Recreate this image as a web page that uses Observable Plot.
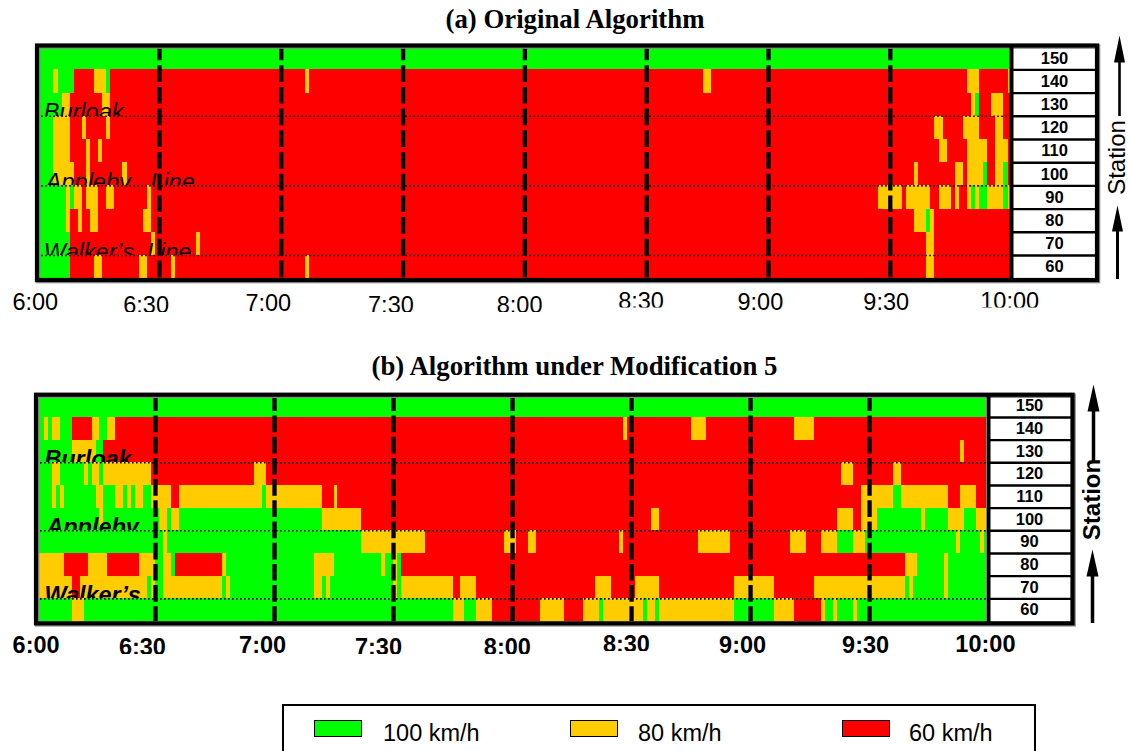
<!DOCTYPE html>
<html><head><meta charset="utf-8">
<script src="https://cdn.jsdelivr.net/npm/d3@7"></script>
<script src="https://cdn.jsdelivr.net/npm/@observablehq/plot@0.6"></script>
<style>
html,body{margin:0;padding:0;background:#fff;width:1128px;height:751px;overflow:hidden}
.abs{position:absolute}
.title{font:bold 26.8px "Liberation Serif",serif;color:#000;white-space:nowrap;transform:translateX(-50%)}
.leg{font:23.5px "Liberation Sans",sans-serif;color:#000;white-space:nowrap}
svg{overflow:hidden !important;background:transparent !important}
</style></head><body>
<div id="root"></div>
<script>
const stations=[150,140,130,120,110,100,90,80,70,60];
const speeds=[100,80,60];
const speedColors=["#00ff00","#ffcc00","#ff0000"];
const END=239.5;
// every row: [end minute after 6:00, speed limit], one pair per run
const a150=[[END,100]];
const a140=[[4,100],[5,80],[9,100],[14,60],[17,80],[18,100],[66,60],[67,80],[164,60],[166,80],[229,60],[232,80],[239,60],[END,80]];
const a130=[[6,100],[8,80],[16,60],[18,80],[230,60],[231,80],[232,100],[235,60],[238,80],[END,60]];
const a120=[[4,100],[8,80],[11,60],[12,80],[17,60],[18,80],[221,60],[223,80],[228,60],[232,80],[236,60],[238,80],[END,60]];
const a110=[[4,100],[8,80],[12,60],[13,80],[15,60],[16,80],[222,60],[224,80],[229,60],[234,80],[236,60],[239,80],[END,60]];
const a100=[[4,100],[9,80],[12,60],[13,80],[21,60],[22,80],[216,60],[217,80],[226,60],[228,80],[229,60],[233,80],[234,100],[236,60],[238,80],[239,100],[END,60]];
const a90=[[7,100],[8,80],[9,100],[11,80],[12,60],[15,80],[17,60],[19,80],[27,60],[28,80],[207,60],[213,80],[214,60],[220,80],[222,60],[225,80],[226,60],[227,80],[229,60],[230,80],[231,100],[232,80],[234,100],[238,80],[239,100],[END,80]];
const a80=[[7,100],[8,80],[10,60],[11,80],[13,60],[15,80],[26,60],[28,80],[216,60],[219,80],[220,100],[221,80],[END,60]];
const a70=[[8,100],[28,60],[29,80],[39,60],[40,80],[219,60],[221,80],[END,60]];
const a60=[[8,100],[14,60],[16,80],[25,60],[27,80],[33,60],[34,80],[66,60],[67,80],[219,60],[221,80],[END,60]];
const b150=[[END,100]];
const b140=[[2,100],[3,80],[4,100],[6,80],[9,100],[14,60],[16,80],[18,100],[20,80],[148,60],[149,80],[165,60],[169,80],[191,60],[196,80],[END,60]];
const b130=[[9,100],[15,80],[17,100],[233,60],[234,80],[END,60]];
const b120=[[4,100],[6,80],[12,100],[13,80],[14,100],[16,80],[17,100],[29,80],[55,60],[58,80],[203,60],[206,80],[216,60],[218,80],[END,60]];
const b110=[[4,100],[5,80],[6,100],[7,80],[15,100],[17,80],[20,100],[22,80],[23,100],[24,80],[25,100],[27,80],[29,100],[34,80],[36,60],[57,80],[58,100],[72,80],[75,60],[76,80],[208,60],[216,80],[218,100],[230,80],[233,60],[237,80],[END,60]];
const b100=[[16,100],[17,80],[31,100],[33,80],[34,100],[36,80],[72,100],[82,80],[155,60],[157,80],[202,60],[206,80],[208,60],[212,80],[223,100],[224,80],[230,100],[234,80],[237,100],[END,80]];
const b90=[[32,100],[33,80],[82,100],[98,80],[118,60],[121,80],[124,60],[126,80],[147,60],[148,80],[167,60],[175,80],[190,60],[194,80],[198,60],[202,80],[206,100],[209,80],[232,100],[233,80],[238,100],[239,80],[END,100]];
const b80=[[7,80],[13,60],[18,80],[26,60],[30,80],[32,100],[34,80],[35,100],[47,60],[48,80],[70,100],[75,80],[87,100],[88,80],[90,100],[91,80],[92,100],[219,60],[222,80],[229,100],[230,80],[END,100]];
const b70=[[9,80],[11,60],[28,80],[29,100],[30,80],[32,100],[47,80],[48,100],[49,80],[70,100],[72,80],[73,100],[74,80],[90,100],[91,80],[92,100],[105,80],[107,60],[111,80],[141,60],[145,80],[151,60],[157,80],[176,60],[186,80],[196,60],[219,80],[220,100],[221,80],[229,100],[230,80],[END,100]];
const b60=[[9,100],[12,80],[105,100],[108,80],[111,100],[115,80],[127,60],[133,80],[138,60],[142,80],[143,100],[153,80],[154,100],[156,80],[157,100],[176,80],[186,100],[191,80],[198,60],[199,80],[201,100],[202,80],[206,100],[207,80],[END,100]];
const halfHours=[30,60,90,120,150,180,210];
const tickLabels=["6:00","6:30","7:00","7:30","8:00","8:30","9:00","9:30","10:00"];
const placeRows=[125,95,65];
const placesA=["Burloak","Appleby\u00a0\u00a0\u00a0Line","Walker\u2019s\u00a0\u00a0Line"];
const placesB=["Burloak","Appleby","Walker\u2019s"];

const font='"Liberation Sans",sans-serif';
function runs(rows){return stations.map((s,i)=>{let start=0;return rows[i].map(([end,speed])=>{const r={station:s,start,end,speed};start=end;return r;});});}

function chart(o){
  const X=p=>(p-o.x0)/o.k;
  const yv=p=>55+(o.yBottom-p)/o.rowH*10;   // frame furniture helper
  const rows=runs(o.rows);
  const marks=[];
  const place=i=>Plot.text([{x:o.placeX[i],y:placeRows[i],t:o.places[i]}],{x:"x",y:"y",text:"t",textAnchor:"start",lineAnchor:"bottom",dy:o.placeDy,fontFamily:font,fontSize:o.placeSize,fontStyle:"italic",fontWeight:o.bold?"bold":"normal",fill:"black"});
  rows.forEach((r,i)=>{
    marks.push(Plot.rect(r,{x1:"start",x2:"end",y1:d=>d.station-5,y2:d=>d.station+5,fill:"speed",shapeRendering:"crispEdges"}));
    if(stations[i]==130) marks.push(place(0));
    if(stations[i]==100) marks.push(place(1));
    if(stations[i]==70) marks.push(place(2));
  });
  marks.push(Plot.ruleY(placeRows,{x1:0,x2:END,stroke:"black",strokeWidth:1.6,strokeDasharray:"1.6 2.4"}));
  marks.push(Plot.ruleX(halfHours,{y1:155,y2:55,stroke:"black",strokeWidth:o.dashW,strokeDasharray:o.dash,strokeDashoffset:o.dashOff}));
  // station table
  const xL=X(o.sep), xR=X(o.right);
  marks.push(Plot.rect([0],{x1:xL,x2:xR,y1:yv(o.frameBottom),y2:yv(o.frameTop),fill:"white"}));
  marks.push(Plot.ruleY(stations.slice(1).map(s=>s+5),{x1:xL,x2:xR,stroke:"black",strokeWidth:2.4}));
  marks.push(Plot.text(stations,{x:X(o.stationX),y:d=>d,text:d=>String(d),dy:o.stationDy,fontFamily:font,fontWeight:"bold",fontSize:o.stationSize,fill:"black"}));
  // frame and separator
  marks.push(Plot.rect([0],{x1:X(o.frameLeft+1),x2:X(o.right+1),y1:yv(o.frameBottom+1),y2:yv(o.frameTop+1),fill:"none",stroke:"#8a8a8a",strokeWidth:4.6}));
  marks.push(Plot.rect([0],{x1:X(o.frameLeft),x2:X(o.right),y1:yv(o.frameBottom),y2:yv(o.frameTop),fill:"none",stroke:"black",strokeWidth:4.2}));
  marks.push(Plot.ruleX([X(o.sep)],{y1:yv(o.frameBottom),y2:yv(o.frameTop),stroke:"black",strokeWidth:4}));
  // tick labels: the reference cuts their lower part off at slightly different levels
  const clips=[...new Set(o.tickClip)].sort((a,b)=>a-b);
  clips.forEach(c=>{
    const d=tickLabels.map((t,i)=>({t,m:o.tickMin[i],top:o.tickTop[i],clip:o.tickClip[i]})).filter(d=>d.clip===c);
    marks.push(Plot.text(d,{x:"m",y:d=>yv(d.top),text:"t",lineAnchor:"top",fontFamily:font,fontSize:o.tickSize,fontWeight:o.bold?"bold":"normal",fill:"black"}));
    marks.push(Plot.rect([0],{x1:X(0),x2:X(1128),y1:yv(c),y2:yv(o.height+4),fill:"white"}));
  });
  // Station arrows
  const ar=(xp,tip,base,end,hw,sw)=>{
    marks.push(Plot.line([[xp-hw,base],[xp,tip],[xp+hw,base]],{x:d=>X(d[0]),y:d=>yv(d[1]),fill:"black",stroke:"none"}));
    marks.push(Plot.ruleX([X(xp)],{y1:yv(base),y2:yv(end),stroke:"black",strokeWidth:sw}));
  };
  o.arrows.forEach(a=>ar(...a));
  marks.push(Plot.text(["Station"],{x:X(o.stX),y:yv(o.stY),rotate:-90,fontFamily:font,fontSize:o.stSize,fontWeight:o.bold?"bold":"normal",fill:"black"}));
  const svg=Plot.plot({width:1128,height:o.height,margin:0,marginTop:0,marginRight:0,marginBottom:0,marginLeft:0,
    x:{domain:[0,240],range:[o.x0,o.x0+240*o.k],axis:null},
    y:{domain:[55,155],range:[o.yBottom,o.yBottom-10*o.rowH],axis:null},
    color:{type:"ordinal",domain:speeds,range:speedColors},
    style:{background:"transparent",overflow:"hidden"},
    marks});
  svg.style.position="absolute";svg.style.left="0";svg.style.top=o.top+"px";
  document.getElementById("root").appendChild(svg);
}

function div(cls,css,text){const d=document.createElement("div");d.className="abs "+cls;Object.assign(d.style,css);if(text)d.textContent=text;document.getElementById("root").appendChild(d);return d;}

div("title",{left:"575px",top:"4px"},"(a) Original Algorithm");
chart({top:0,height:312,x0:37.2,k:4.06,yBottom:278.2,rowH:23.2,frameLeft:37,frameTop:45.5,frameBottom:280,right:1097,sep:1011,
  rows:[a150,a140,a130,a120,a110,a100,a90,a80,a70,a60],places:placesA,placeX:[1.5,2,1.5],placeDy:4,placeSize:23.5,bold:false,
  dash:"16.7 5",dashW:4.3,dashOff:2.7,stationX:1054,stationDy:0,stationSize:16.5,
  tickMin:[-0.6,26.7,56.8,87,118.7,148.6,178,209,239.4],
  tickTop:[293,295.5,293.5,295.5,295.5,292.3,293,293,292],
  tickClip:[310,312,312,312,312,307.5,310,310,307.5],tickSize:23.5,
  arrows:[[1119,35,62,116,5.5,2.6],[1117,205,231,279,5.5,3]],stX:1117,stY:157,stSize:24});
div("title",{left:"574.5px",top:"351px"},"(b) Algorithm under Modification 5");
chart({top:0,height:655,x0:36,k:3.967,yBottom:621,rowH:22.67,frameLeft:36,frameTop:394.7,frameBottom:623.3,right:1072.5,sep:988,
  rows:[b150,b140,b130,b120,b110,b100,b90,b80,b70,b60],places:placesB,placeX:[2,2.5,2],placeDy:4,placeSize:23.4,bold:true,
  dash:"16.7 4.5",dashW:4.3,dashOff:0,stationX:1029,stationDy:0,stationSize:16.5,
  tickMin:[-0.1,26.7,57,86.2,118.7,148.7,178,209,239.2],
  tickTop:[636,638,636,638,638,635,636.3,636.3,635],
  tickClip:[653,654,655,654,654,651,654,654,652],tickSize:23.5,
  arrows:[[1093,384,411,462,6,3.5],[1092,549,576,623,6,3.5]],stX:1092,stY:499,stSize:24});
// legend
div("",{left:"282px",top:"704px",width:"750px",height:"60px",border:"2px solid #000"});
[[314,383,0,"100 km/h"],[570,638,1,"80 km/h"],[842,909,2,"60 km/h"]].forEach(([sx,tx,i,t])=>{
  div("",{left:sx+"px",top:"720px",width:"46px",height:"15px",border:"1.5px solid #000",background:speedColors[i]});
  div("leg",{left:tx+"px",top:"720px"},t);
});
</script>
</body></html>
